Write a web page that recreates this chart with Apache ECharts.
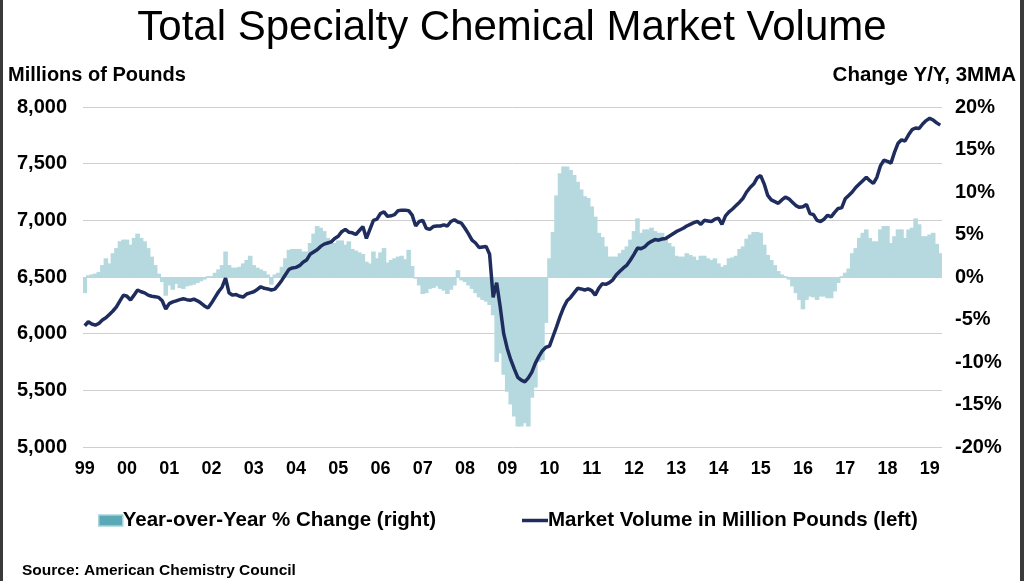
<!DOCTYPE html>
<html>
<head>
<meta charset="utf-8">
<script src="https://cdn.jsdelivr.net/npm/echarts@6/dist/echarts.min.js"></script>
<style>
html,body{margin:0;padding:0;background:#fff;}
#c{width:1024px;height:581px;}
</style>
</head>
<body>
<div id="c"></div>
<script>
// Year tick labels (January of each year)
var yearLabels = ['99','00','01','02','03','04','05','06','07','08','09','10','11','12','13','14','15','16','17','18','19'];
var monthsInLastYear = 4; // Jan-Apr 2019

// Market Volume in Million Pounds (left axis), monthly Jan 1999 - Apr 2019
var volume = [
// 1999
6070,6105,6085,6075,6090,6120,6140,6170,6200,6237,6290,6340,
// 2000
6330,6297,6340,6385,6370,6360,6340,6330,6326,6320,6290,6217,
// 2001
6265,6280,6290,6300,6308,6300,6295,6305,6290,6270,6245,6226,
// 2002
6270,6320,6370,6410,6490,6358,6340,6345,6330,6323,6350,6360,
// 2003
6370,6390,6414,6400,6395,6385,6393,6430,6472,6520,6567,6580,
// 2004
6585,6600,6630,6649,6700,6720,6740,6770,6790,6800,6810,6840,
// 2005
6860,6900,6920,6895,6890,6875,6910,6945,6840,6920,7000,7010,
// 2006
7060,7075,7035,7040,7050,7085,7090,7090,7085,7046,6950,6990,
// 2007
7000,6930,6920,6945,6950,6950,6960,6950,6990,7005,6985,6975,
// 2008
6930,6880,6825,6800,6760,6765,6770,6700,6320,6450,6237,6000,
// 2009
5870,5770,5690,5615,5590,5575,5610,5660,5740,5800,5850,5880,
// 2010
5890,5975,6060,6150,6230,6290,6320,6360,6400,6395,6385,6395,
// 2011
6380,6340,6400,6440,6435,6450,6475,6520,6550,6580,6605,6650,
// 2012
6700,6755,6750,6765,6795,6815,6830,6825,6835,6840,6860,6880,
// 2013
6900,6915,6930,6950,6965,6980,6990,6965,7000,6995,6990,7010,
// 2014
7020,6965,7040,7075,7100,7130,7160,7195,7250,7290,7320,7375,
// 2015
7395,7320,7220,7180,7165,7150,7180,7205,7190,7160,7130,7115,
// 2016
7120,7140,7060,7050,7000,6990,7010,7045,7030,7070,7105,7110,
// 2017
7190,7220,7250,7290,7320,7350,7380,7350,7325,7380,7480,7530,
// 2018
7520,7505,7600,7680,7710,7700,7755,7800,7815,7810,7850,7880,
// 2019
7900,7885,7860,7840
];

// Year-over-Year % Change, 3MMA (right axis), monthly Jan 1999 - Apr 2019
var yoy = [
// 1999
-1.9,0.2,0.3,0.4,0.6,1.4,2.2,1.6,2.8,3.4,4.2,4.4,
// 2000
4.4,3.8,4.6,5.1,4.6,4.2,3.4,2.4,1.4,0.4,-0.6,-2.2,
// 2001
-1.0,-1.5,-0.8,-1.3,-1.4,-1.1,-1.0,-0.9,-0.7,-0.5,-0.3,0.1,
// 2002
0.1,0.5,0.9,1.4,3.0,1.4,1.1,1.1,1.2,1.6,2.0,2.5,
// 2003
1.4,1.1,0.9,0.7,0.3,-0.9,0.3,0.5,1.2,2.2,3.2,3.3,
// 2004
3.3,3.3,3.0,3.0,4.0,5.1,6.0,5.8,5.4,4.6,4.0,4.0,
// 2005
4.3,4.3,3.8,4.2,3.3,3.1,2.9,2.7,1.8,1.6,3.0,2.2,
// 2006
2.9,3.4,1.7,2.0,2.2,2.4,2.5,2.1,3.2,1.3,-0.2,-1.0,
// 2007
-2.0,-1.9,-1.4,-1.3,-1.1,-1.4,-1.6,-2.0,-1.5,-1.0,0.8,-0.4,
// 2008
-0.6,-1.0,-1.4,-1.9,-2.4,-2.7,-2.9,-3.3,-4.5,-10.0,-9.0,-11.5,
// 2009
-13.5,-15.0,-16.4,-17.6,-17.6,-17.2,-17.6,-14.2,-13.0,-10.0,-9.8,-5.4,
// 2010
2.2,5.3,9.6,12.2,13.0,13.0,12.6,12.0,11.2,10.3,9.5,9.3,
// 2011
8.3,7.1,5.2,4.7,3.6,2.4,2.4,2.4,2.8,3.2,3.6,4.4,
// 2012
5.4,6.9,5.2,5.6,5.6,5.8,5.4,5.2,5.2,4.6,4.0,3.6,
// 2013
2.5,2.4,2.4,2.8,2.6,2.4,2.0,2.5,2.5,2.2,2.0,2.2,
// 2014
1.6,1.2,1.4,2.2,2.3,2.5,3.3,3.6,4.5,5.0,5.3,5.3,
// 2015
5.2,3.8,2.6,2.0,1.4,0.7,0.3,0.1,-0.3,-1.1,-1.9,-2.7,
// 2016
-3.8,-2.7,-2.3,-2.4,-2.7,-2.3,-2.3,-2.5,-2.5,-1.7,-0.7,0.1,
// 2017
0.5,1.0,2.8,3.4,4.6,5.2,5.6,4.6,4.2,4.2,5.6,6.0,
// 2018
6.0,4.0,4.8,5.6,5.6,4.6,5.6,5.8,6.9,6.2,4.8,4.8,
// 2019
5.0,5.2,3.9,2.8
];

var leftTicks = {min: 5000, max: 8000, interval: 500};
var rightTicks = {min: -20, max: 20, interval: 5};

// build month categories from year labels
var months = [];
for (var y = 0; y < yearLabels.length; y++) {
  var n = (y === yearLabels.length - 1) ? monthsInLastYear : 12;
  for (var m = 0; m < n; m++) months.push(yearLabels[y] + '-' + (m + 1));
}

var chart = echarts.init(document.getElementById('c'), null, {renderer: 'canvas'});
var labelFont = '"Liberation Sans", Arial, sans-serif';
var barColor = '#b5d9df';
var lineColor = '#1f2d5e';

chart.setOption({
  animation: false,
  backgroundColor: '#ffffff',
  title: {
    text: 'Total Specialty Chemical Market Volume',
    left: 'center',
    top: 2,
    textStyle: {fontFamily: labelFont, fontSize: 42, fontWeight: 'normal', color: '#000'}
  },
  graphic: [
    {type: 'text', left: 8, top: 65, style: {text: 'Millions of Pounds', font: 'bold 20px ' + labelFont, fill: '#000'}},
    {type: 'text', right: 8, top: 65, style: {text: 'Change Y/Y, 3MMA', font: 'bold 20.5px ' + labelFont, fill: '#000'}},
    {type: 'text', left: 22, top: 563, style: {text: 'Source: American Chemistry Council', font: 'bold 15.5px ' + labelFont, fill: '#000'}},
    {type: 'rect', left: 0, top: 0, shape: {width: 3, height: 581}, style: {fill: '#3a3a3a'}},
    {type: 'rect', right: 0, top: 0, shape: {width: 4, height: 581}, style: {fill: '#3a3a3a'}}
  ],
  legend: [
    {
      data: [{name: 'Year-over-Year % Change (right)', icon: 'rect', itemStyle: {color: '#5ba9b6', borderColor: '#a9d3da', borderWidth: 1.5}}],
      left: 93, top: 505, itemWidth: 24, itemHeight: 11, itemGap: 2,
      textStyle: {fontFamily: labelFont, fontSize: 20.5, fontWeight: 'bold', color: '#000', padding: [0, 0, 0, -5]}
    },
    {
      data: [{name: 'Market Volume in Million Pounds (left)', icon: 'rect'}],
      left: 517, top: 505, itemWidth: 26, itemHeight: 3.5,
      textStyle: {fontFamily: labelFont, fontSize: 20.5, fontWeight: 'bold', color: '#000', padding: [0, 0, 0, -5]}
    }
  ],
  grid: {left: 83, right: 82, top: 107, bottom: 134, containLabel: false},
  xAxis: {
    type: 'category',
    data: months,
    boundaryGap: true,
    axisLine: {show: false},
    axisTick: {show: false},
    axisLabel: {
      interval: function (idx) { return idx % 12 === 0; },
      formatter: function (v) { return v.split('-')[0]; },
      fontFamily: labelFont, fontSize: 18, fontWeight: 'bold', color: '#000', margin: 13
    }
  },
  yAxis: [
    {
      type: 'value', min: leftTicks.min, max: leftTicks.max, interval: leftTicks.interval,
      axisLine: {show: false}, axisTick: {show: false},
      splitLine: {lineStyle: {color: '#cfcfcf', width: 1}},
      axisLabel: {
        formatter: function (v) { return v.toLocaleString('en-US'); },
        fontFamily: labelFont, fontSize: 20, fontWeight: 'bold', color: '#000', margin: 16
      }
    },
    {
      type: 'value', min: rightTicks.min, max: rightTicks.max, interval: rightTicks.interval,
      axisLine: {show: false}, axisTick: {show: false}, splitLine: {show: false},
      axisLabel: {
        formatter: '{value}%',
        fontFamily: labelFont, fontSize: 20, fontWeight: 'bold', color: '#000', margin: 13
      }
    }
  ],
  series: [
    {
      name: 'Year-over-Year % Change (right)',
      type: 'bar', yAxisIndex: 1, data: yoy,
      barWidth: '130%',
      itemStyle: {color: barColor},
      z: 1
    },
    {
      name: 'Market Volume in Million Pounds (left)',
      type: 'line', yAxisIndex: 0, data: volume,
      symbol: 'none', smooth: false,
      lineStyle: {color: lineColor, width: 3.5},
      itemStyle: {color: lineColor},
      z: 3
    }
  ]
});
</script>
</body>
</html>
